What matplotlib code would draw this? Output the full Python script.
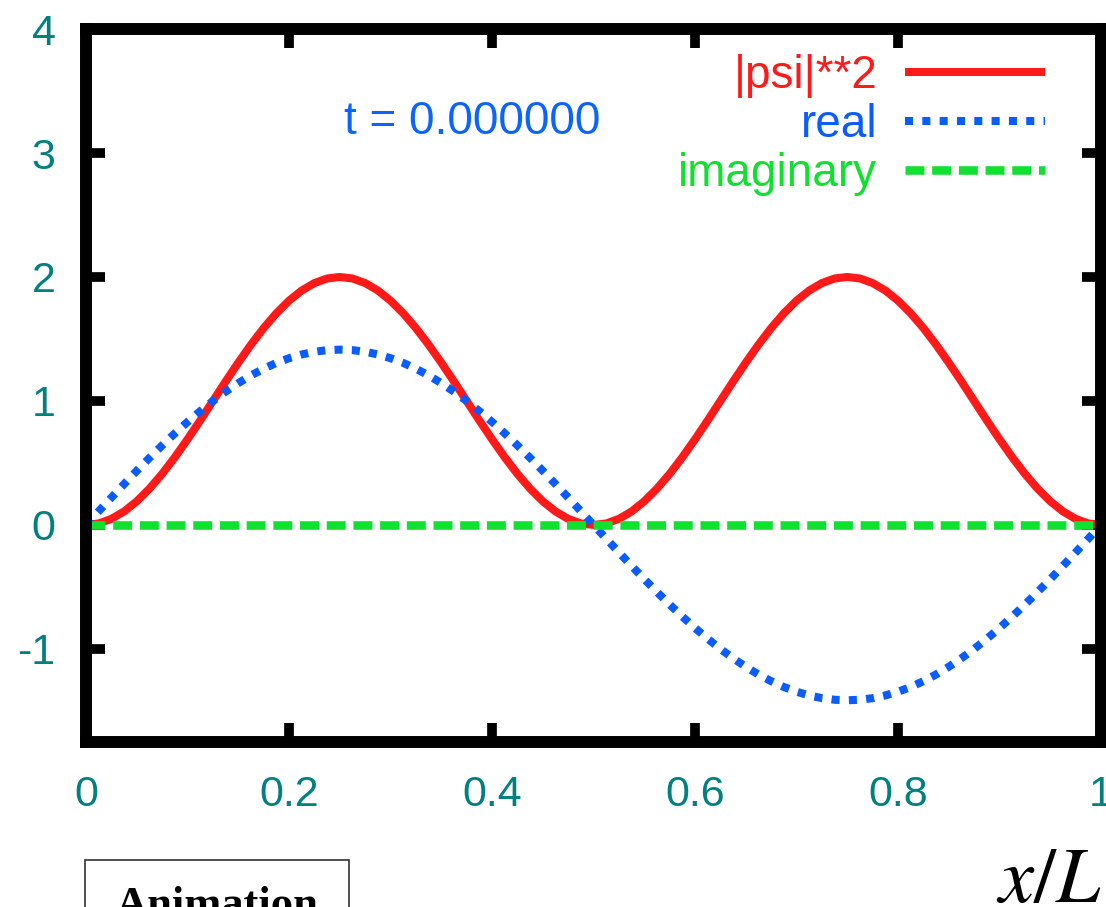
import matplotlib
matplotlib.use("Agg")
import matplotlib.pyplot as plt
from matplotlib.patches import Rectangle

# values, x/L in steps of 0.0125
x_pos = [0.0000, 0.0125, 0.0250, 0.0375, 0.0500, 0.0625, 0.0750, 0.0875, 0.1000, 0.1125,
         0.1250, 0.1375, 0.1500, 0.1625, 0.1750, 0.1875, 0.2000, 0.2125, 0.2250, 0.2375,
         0.2500, 0.2625, 0.2750, 0.2875, 0.3000, 0.3125, 0.3250, 0.3375, 0.3500, 0.3625,
         0.3750, 0.3875, 0.4000, 0.4125, 0.4250, 0.4375, 0.4500, 0.4625, 0.4750, 0.4875,
         0.5000, 0.5125, 0.5250, 0.5375, 0.5500, 0.5625, 0.5750, 0.5875, 0.6000, 0.6125,
         0.6250, 0.6375, 0.6500, 0.6625, 0.6750, 0.6875, 0.7000, 0.7125, 0.7250, 0.7375,
         0.7500, 0.7625, 0.7750, 0.7875, 0.8000, 0.8125, 0.8250, 0.8375, 0.8500, 0.8625,
         0.8750, 0.8875, 0.9000, 0.9125, 0.9250, 0.9375, 0.9500, 0.9625, 0.9750, 0.9875,
         1.0000]
psi_sq = [0.000, 0.012, 0.049, 0.109, 0.191, 0.293, 0.412, 0.546, 0.691, 0.843,
          1.000, 1.157, 1.309, 1.454, 1.588, 1.707, 1.809, 1.891, 1.951, 1.988,
          2.000, 1.988, 1.951, 1.891, 1.809, 1.707, 1.588, 1.454, 1.309, 1.157,
          1.000, 0.843, 0.691, 0.546, 0.412, 0.293, 0.191, 0.109, 0.049, 0.012,
          0.000, 0.012, 0.049, 0.109, 0.191, 0.293, 0.412, 0.546, 0.691, 0.843,
          1.000, 1.157, 1.309, 1.454, 1.588, 1.707, 1.809, 1.891, 1.951, 1.988,
          2.000, 1.988, 1.951, 1.891, 1.809, 1.707, 1.588, 1.454, 1.309, 1.157,
          1.000, 0.843, 0.691, 0.546, 0.412, 0.293, 0.191, 0.109, 0.049, 0.012,
          0.000]
real = [0.000, 0.111, 0.221, 0.330, 0.437, 0.541, 0.642, 0.739, 0.831, 0.918,
        1.000, 1.075, 1.144, 1.206, 1.260, 1.307, 1.345, 1.375, 1.397, 1.410,
        1.414, 1.410, 1.397, 1.375, 1.345, 1.307, 1.260, 1.206, 1.144, 1.075,
        1.000, 0.918, 0.831, 0.739, 0.642, 0.541, 0.437, 0.330, 0.221, 0.111,
        0.000, -0.111, -0.221, -0.330, -0.437, -0.541, -0.642, -0.739, -0.831, -0.918,
        -1.000, -1.075, -1.144, -1.206, -1.260, -1.307, -1.345, -1.375, -1.397, -1.410,
        -1.414, -1.410, -1.397, -1.375, -1.345, -1.307, -1.260, -1.206, -1.144, -1.075,
        -1.000, -0.918, -0.831, -0.739, -0.642, -0.541, -0.437, -0.330, -0.221, -0.111,
        0.000]
imag = [0.0, 0.0, 0.0, 0.0, 0.0, 0.0, 0.0, 0.0, 0.0, 0.0,
        0.0, 0.0, 0.0, 0.0, 0.0, 0.0, 0.0, 0.0, 0.0, 0.0,
        0.0, 0.0, 0.0, 0.0, 0.0, 0.0, 0.0, 0.0, 0.0, 0.0,
        0.0, 0.0, 0.0, 0.0, 0.0, 0.0, 0.0, 0.0, 0.0, 0.0,
        0.0, 0.0, 0.0, 0.0, 0.0, 0.0, 0.0, 0.0, 0.0, 0.0,
        0.0, 0.0, 0.0, 0.0, 0.0, 0.0, 0.0, 0.0, 0.0, 0.0,
        0.0, 0.0, 0.0, 0.0, 0.0, 0.0, 0.0, 0.0, 0.0, 0.0,
        0.0, 0.0, 0.0, 0.0, 0.0, 0.0, 0.0, 0.0, 0.0, 0.0,
        0.0]

x_ticks = [0, 0.2, 0.4, 0.6, 0.8, 1]
x_labels = ["0", "0.2", "0.4", "0.6", "0.8", "1"]
y_ticks = [-1, 0, 1, 2, 3, 4]
y_labels = ["-1", "0", "1", "2", "3", "4"]

plt.rcParams['font.family'] = ['Liberation Sans', 'DejaVu Sans']
plt.rcParams['mathtext.fontset'] = 'stix'

fig = plt.figure(figsize=(11.06, 9.07), dpi=100)
ax = fig.add_axes([0.0778, 0.182, 0.9177, 0.786])

ax.plot(x_pos, psi_sq, color="#ff1a1a", lw=5.8, label="|psi|**2",
        solid_capstyle="butt", solid_joinstyle="round", zorder=3)
ax.plot(x_pos, real, color="#0a5cff", lw=5.8, ls=(0, (1, 1.15)),
        dash_capstyle="butt", label="real", zorder=4)
ax.plot(x_pos, imag, color="#10e030", lw=6.2, ls=(0, (2.2, 0.9)),
        dash_capstyle="butt", label="imaginary", zorder=5)

ax.set_xlim(0, 1)
ax.set_ylim(-1.75, 4)
ax.set_xticks(x_ticks)
ax.set_xticklabels(x_labels)
ax.set_yticks(y_ticks)
ax.set_yticklabels(y_labels)

for sp in ax.spines.values():
    sp.set_linewidth(8.6)
    sp.set_color("black")
    sp.set_zorder(6)
ax.tick_params(direction="in", length=14, width=7, color="black",
               top=True, right=True, labelsize=31, labelcolor="#008080")
ax.tick_params(axis="x", pad=24)
ax.tick_params(axis="y", pad=22)

ax.text(0.38, 3.25, "t = 0.000000", color="#0a64ff", fontsize=33,
        ha="center", va="center")

leg = ax.legend(loc="upper right", bbox_to_anchor=(0.945, 0.965),
                frameon=False, markerfirst=False, fontsize=33,
                handlelength=3.06, handletextpad=0.6, labelspacing=0.11,
                borderpad=0, borderaxespad=0, labelcolor="linecolor")

# caption items under the plot
fig.patches.append(Rectangle((0.077, -0.05), 0.239, 0.1018,
                             transform=fig.transFigure, fill=False,
                             edgecolor="#333333", lw=1.2))
fig.text(0.1965, 0.023, "Animation", fontsize=32, fontweight="bold",
         family="Liberation Serif", ha="center", va="top")
fig.text(0.996, 0.005, r"$x/L$", fontsize=57, ha="right", va="baseline")

fig.savefig("out.png", dpi=100)
